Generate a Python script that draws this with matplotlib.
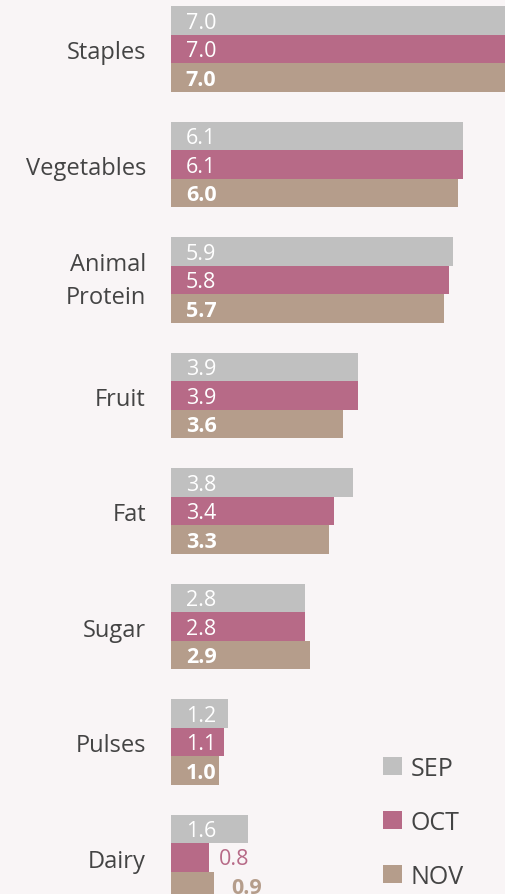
import matplotlib.pyplot as plt

# Data
categories = ['Staples', 'Vegetables', 'Animal\nProtein', 'Fruit', 'Fat', 'Sugar', 'Pulses', 'Dairy']
sep = [7.0, 6.1, 5.9, 3.9, 3.8, 2.8, 1.2, 1.6]
oct_ = [7.0, 6.1, 5.8, 3.9, 3.4, 2.8, 1.1, 0.8]
nov = [7.0, 6.0, 5.7, 3.6, 3.3, 2.9, 1.0, 0.9]
series = [('SEP', sep, '#c0c0c0'), ('OCT', oct_, '#b76a87'), ('NOV', nov, '#b59d8b')]

bg = '#f9f5f6'
plt.rcParams['font.family'] = ['Open Sans', 'DejaVu Sans']

fig = plt.figure(figsize=(5.06, 8.95), dpi=100, facecolor=bg)
ax = fig.add_axes([171 / 506, 0, 335 / 506, 1])
ax.set_facecolor(bg)

h = 0.248
offsets = [-h, 0, h]
handles = []
for (name, vals, col), off in zip(series, offsets):
    ys = [i + off for i in range(len(categories))]
    b = ax.barh(ys, vals, height=h, color=col, label=name)
    handles.append(b)
    bold = 'bold' if name == 'NOV' else 'normal'
    for y, v in zip(ys, vals):
        if v >= 1.0:
            ax.text(0.31, y + 0.015, f'{v:.1f}', color='white', fontsize=15.5,
                    fontweight=bold, va='center', ha='left')
        else:
            pad = 0.2 if name == 'OCT' else 0.35
            ax.text(v + pad, y + 0.01, f'{v:.1f}', color=col, fontsize=15.5,
                    fontweight=bold, va='center', ha='left')

ax.set_xlim(0, 7.0)
ax.set_ylim(7.316, -0.433)
ax.set_yticks(range(len(categories)))
ax.set_yticklabels(categories, fontsize=17, color='#444444', linespacing=1.5)
for lbl in ax.get_yticklabels():
    if '\n' in lbl.get_text():
        lbl.set_va('center')
ax.tick_params(axis='y', length=0, pad=18)
ax.set_xticks([])
for s in ax.spines.values():
    s.set_visible(False)

ax.legend(handles=handles, loc='lower left', bbox_to_anchor=(0.567, -0.019),
          frameon=False, fontsize=18, labelcolor='#444444',
          handlelength=0.75, handleheight=0.75, handletextpad=0.35,
          labelspacing=1.15)

plt.savefig('out.png', dpi=100, facecolor=bg)
